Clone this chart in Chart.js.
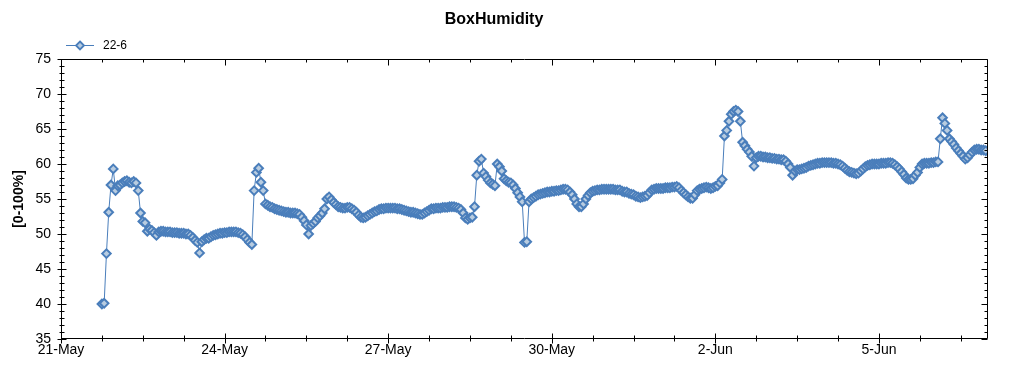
<!DOCTYPE html>
<html>
<head>
<meta charset="utf-8">
<script src="https://cdn.jsdelivr.net/npm/chart.js@4.4.1/dist/chart.umd.min.js"></script>
<style>
  html, body { margin: 0; padding: 0; background: #fff; }
  #wrap { width: 1024px; height: 375px; }
</style>
</head>
<body>
<div id="wrap"><canvas id="c" width="1024" height="375"></canvas></div>
<script>
// ---- data (hourly samples, hour 0 = 21-May 00:00) ----
const chartTitle = 'BoxHumidity';
const seriesName = '22-6';
const yAxisTitle = '[0-100%]';
const firstHour = 18;
const humidity = [
  // 21-May 18:00-23:00
  40.0, 40.1, 47.2, 53.1, 57.0, 59.3,
  // 22-May
  56.2, 56.9, 57.0, 57.3, 57.5, 57.6, 57.4, 57.3, 57.5, 57.3, 56.2, 53.0,
  51.8, 51.6, 50.4, 50.7, 50.5, 50.2, 49.8, 50.3, 50.4, 50.4, 50.3, 50.3,
  // 23-May
  50.3, 50.2, 50.2, 50.2, 50.1, 50.1, 50.1, 50.0, 50.0, 49.8, 49.5, 49.1,
  48.8, 47.3, 48.9, 49.2, 49.4, 49.4, 49.6, 49.8, 49.9, 50.0, 50.1, 50.1,
  // 24-May
  50.2, 50.2, 50.3, 50.3, 50.3, 50.3, 50.2, 50.1, 49.9, 49.6, 49.2, 48.8,
  48.5, 56.2, 58.8, 59.4, 57.4, 56.2, 54.3, 54.1, 53.9, 53.8, 53.6, 53.5,
  // 25-May
  53.4, 53.3, 53.2, 53.1, 53.1, 53.0, 53.0, 53.0, 52.9, 52.8, 52.4, 51.9,
  51.3, 50.0, 51.2, 51.5, 51.8, 52.3, 52.6, 53.0, 53.6, 55.0, 55.3, 54.9,
  // 26-May
  54.5, 54.2, 53.9, 53.8, 53.7, 53.7, 53.8, 53.8, 53.6, 53.4, 53.1, 52.7,
  52.4, 52.3, 52.4, 52.6, 52.8, 53.0, 53.2, 53.3, 53.5, 53.6, 53.6, 53.7,
  // 27-May
  53.7, 53.7, 53.7, 53.7, 53.6, 53.6, 53.5, 53.4, 53.3, 53.2, 53.1, 53.1,
  53.0, 52.9, 52.8, 52.8, 53.0, 53.2, 53.4, 53.6, 53.6, 53.7, 53.7, 53.7,
  // 28-May
  53.8, 53.8, 53.8, 53.9, 53.9, 53.9, 53.8, 53.7, 53.5, 53.0, 52.3, 52.1,
  52.3, 52.4, 53.9, 58.4, 60.4, 60.7, 58.7, 58.2, 57.7, 57.3, 57.1, 56.9,
  // 29-May
  60.0, 59.6, 59.0, 57.9, 57.6, 57.4, 57.3, 57.0, 56.5, 55.9, 55.3, 54.6,
  48.8, 48.9, 54.6, 55.0, 55.2, 55.4, 55.6, 55.7, 55.8, 55.9, 56.0, 56.0,
  // 30-May
  56.1, 56.1, 56.2, 56.2, 56.3, 56.4, 56.4, 56.3, 56.0, 55.6, 55.0, 54.3,
  53.9, 53.9, 54.3, 55.0, 55.5, 55.9, 56.1, 56.2, 56.3, 56.3, 56.4, 56.4,
  // 31-May
  56.4, 56.4, 56.4, 56.4, 56.3, 56.3, 56.3, 56.1, 56.0, 56.0, 55.8, 55.7,
  55.6, 55.4, 55.3, 55.2, 55.3, 55.4, 55.5, 55.9, 56.3, 56.4, 56.5, 56.5,
  // 1-Jun
  56.5, 56.5, 56.6, 56.6, 56.6, 56.7, 56.7, 56.8, 56.6, 56.2, 55.9, 55.6,
  55.3, 55.1, 55.1, 55.6, 56.2, 56.4, 56.5, 56.6, 56.7, 56.6, 56.5, 56.6,
  // 2-Jun
  56.8, 56.9, 57.3, 57.8, 64.0, 64.8, 66.1, 67.1, 67.5, 67.7, 67.5, 66.1,
  63.1, 62.6, 62.1, 61.7, 61.1, 59.7, 60.9, 61.1, 61.1, 61.0, 61.0, 60.9,
  // 3-Jun
  60.9, 60.8, 60.8, 60.7, 60.7, 60.6, 60.6, 60.4, 60.0, 59.5, 58.4, 59.0,
  59.2, 59.2, 59.3, 59.4, 59.5, 59.7, 59.8, 59.9, 60.0, 60.1, 60.1, 60.2,
  // 4-Jun
  60.2, 60.2, 60.2, 60.2, 60.1, 60.1, 60.0, 59.9, 59.7, 59.4, 59.1, 58.9,
  58.8, 58.7, 58.6, 58.7, 59.0, 59.3, 59.6, 59.8, 59.9, 60.0, 60.0, 60.0,
  // 5-Jun
  60.0, 60.1, 60.1, 60.1, 60.2, 60.2, 60.1, 59.9, 59.6, 59.3, 58.9, 58.5,
  58.0, 57.8, 57.8, 57.9, 58.4, 58.8, 59.5, 60.0, 60.1, 60.1, 60.1, 60.2,
  // 6-Jun
  60.2, 60.3, 60.3, 63.6, 66.6, 65.8, 64.8, 63.6, 63.2, 62.8, 62.3, 61.9,
  61.5, 61.1, 60.7, 60.9, 61.3, 61.7, 62.0, 62.1, 62.1, 62.0, 62.0, 61.9
];
const hours = humidity.map((v, i) => firstHour + i);
const xMin = 0, xMax = 408;            // 21-May 00:00 .. 7-Jun 00:00
const xMajorStep = 72, xMinorStep = 18;
const xTickLabels = ['21-May', '24-May', '27-May', '30-May', '2-Jun', '5-Jun'];
const yMin = 35, yMax = 75, yMajorStep = 5, yMinorStep = 1;

const LINE = '#4a7ebb';
const FILL = '#b8cce0';
const FONT = '"Liberation Sans", Arial, sans-serif';

Chart.defaults.font.family = FONT;
Chart.defaults.color = '#000';

const framePlugin = {
  id: 'frameTicks',
  afterDraw(chart) {
    const { ctx, chartArea: a, scales: { x, y } } = chart;
    const L = Math.round(a.left) + 0.5, R = Math.round(a.right) - 0.5;
    const T = Math.round(a.top) + 0.5, B = Math.round(a.bottom) - 0.5;
    ctx.save();
    ctx.strokeStyle = '#000';
    ctx.lineWidth = 1;
    ctx.beginPath();
    ctx.moveTo(L, T); ctx.lineTo(R, T); ctx.lineTo(R, B); ctx.lineTo(L, B); ctx.closePath();
    for (let h = xMin; h <= xMax; h += xMinorStep) {
      const px = Math.round(x.getPixelForValue(h)) + 0.5;
      const major = h % xMajorStep === 0;
      ctx.moveTo(px, B - (major ? 5 : 3)); ctx.lineTo(px, B + (major ? 5 : 3));
      ctx.moveTo(px, T); ctx.lineTo(px, T + (major ? 6 : 3));
    }
    for (let v = yMin; v <= yMax; v += yMinorStep) {
      const py = Math.round(y.getPixelForValue(v)) + 0.5;
      const major = v % yMajorStep === 0;
      ctx.moveTo(L - (major ? 4 : 2), py); ctx.lineTo(L + (major ? 5 : 3), py);
      ctx.moveTo(R, py); ctx.lineTo(R - (major ? 6 : 3), py);
    }
    ctx.stroke();

    // legend
    const ly = 45.5;
    ctx.strokeStyle = LINE;
    ctx.beginPath(); ctx.moveTo(66, ly); ctx.lineTo(94, ly); ctx.stroke();
    ctx.lineWidth = 1.8;
    ctx.beginPath();
    ctx.moveTo(80, ly - 4); ctx.lineTo(84, ly); ctx.lineTo(80, ly + 4); ctx.lineTo(76, ly); ctx.closePath();
    ctx.fillStyle = FILL; ctx.fill(); ctx.stroke();
    ctx.fillStyle = '#000';
    ctx.font = '12px ' + FONT;
    ctx.textBaseline = 'middle';
    ctx.textAlign = 'left';
    ctx.fillText(seriesName, 103, ly);
    ctx.restore();
  }
};

new Chart(document.getElementById('c'), {
  type: 'line',
  data: {
    datasets: [{
      label: seriesName,
      data: hours.map((h, i) => ({ x: h, y: humidity[i] })),
      borderColor: LINE,
      borderWidth: 1,
      backgroundColor: FILL,
      pointStyle: 'rectRot',
      pointRadius: 4.3,
      pointBorderWidth: 2,
      pointBorderColor: LINE,
      pointBackgroundColor: FILL,
      tension: 0,
      fill: false
    }]
  },
  options: {
    responsive: false,
    devicePixelRatio: 1,
    animation: false,
    layout: { padding: { left: 0, right: 36, top: 0, bottom: 0 } },
    plugins: {
      legend: { display: false },
      tooltip: { enabled: false },
      title: {
        display: true,
        text: chartTitle,
        color: '#000',
        font: { size: 16, weight: 'bold', family: FONT },
        padding: { top: 10, bottom: 29.8 }
      }
    },
    scales: {
      x: {
        type: 'linear',
        min: xMin, max: xMax,
        afterFit(s) { s.height = 36; },
        grid: { display: false, drawTicks: false },
        border: { display: false },
        ticks: {
          stepSize: xMajorStep,
          includeBounds: false,
          autoSkip: false,
          maxRotation: 0,
          padding: 3,
          font: { size: 14 },
          color: '#000',
          callback: (v) => xTickLabels[v / xMajorStep] || ''
        }
      },
      y: {
        min: yMin, max: yMax,
        afterFit(s) { s.width = 61; },
        grid: { display: false, drawTicks: false },
        border: { display: false },
        ticks: { stepSize: yMajorStep, padding: 10, font: { size: 14 }, color: '#000' },
        title: {
          display: true,
          text: yAxisTitle,
          color: '#000',
          font: { size: 14, weight: 'bold', family: FONT },
          padding: { top: 11, bottom: 0 }
        }
      }
    }
  },
  plugins: [framePlugin]
});
</script>
</body>
</html>
